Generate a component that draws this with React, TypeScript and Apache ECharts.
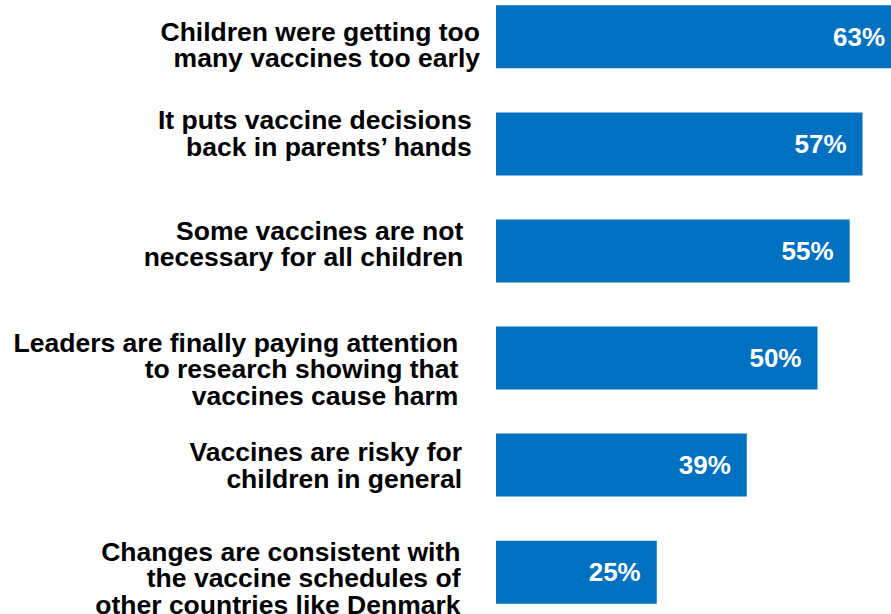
import React, { useEffect, useRef } from "react";
import * as echarts from "echarts";

const categories: string[] = [
  "Children were getting too\nmany vaccines too early",
  "It puts vaccine decisions\nback in parents’ hands",
  "Some vaccines are not\nnecessary for all children",
  "Leaders are finally paying attention\nto research showing that\nvaccines cause harm",
  "Vaccines are risky for\nchildren in general",
  "Changes are consistent with\nthe vaccine schedules of\nother countries like Denmark",
];

const values: number[] = [63, 57, 55, 50, 39, 25];

// per-label fine offsets: [shift down px, extra right gap px]
const labelShiftDown: number[] = [7.9, -10.5, -6.7, 11.2, 0.3, 6.3];
const labelExtraRight: number[] = [0, 8.3, 16.7, 21.7, 18, 19.5];

const FONT = "'Liberation Sans', Arial, Helvetica, sans-serif";
const FS = 26.5;
const LH = 26.3;

export default function App() {
  const ref = useRef<HTMLDivElement>(null);

  useEffect(() => {
    if (!ref.current) return;
    const chart = echarts.init(ref.current, undefined, { renderer: "svg" });

    const rich: Record<string, any> = {
      t: {
        fontFamily: FONT,
        fontSize: FS,
        fontWeight: "bold",
        lineHeight: LH,
        color: "#000000",
        align: "right",
      },
    };
    labelShiftDown.forEach((d, i) => {
      const h = Math.max(0.01, Math.abs(2 * d));
      rich["sp" + i] = { fontSize: 1, height: h, lineHeight: h, width: 0 };
    });

    const yData = categories.map((c, i) => ({
      value: c,
      textStyle: { padding: [0, labelExtraRight[i], 0, 0] },
    }));

    chart.setOption({
      animation: false,
      backgroundColor: "#ffffff",
      grid: {
        left: 496,
        right: -55.1,
        top: -16.7,
        bottom: -11.7,
        containLabel: false,
        outerBoundsMode: "none",
      },
      xAxis: {
        type: "value",
        min: 0,
        max: 70,
        show: false,
        splitLine: { show: false },
      },
      yAxis: {
        type: "category",
        inverse: true,
        data: yData,
        axisLine: { show: false },
        axisTick: { show: false },
        splitLine: { show: false },
        axisLabel: {
          interval: 0,
          margin: 16,
          fontFamily: FONT,
          fontSize: FS,
          fontWeight: "bold",
          lineHeight: LH,
          color: "#000000",
          align: "right",
          rich,
          formatter: (value: string, index: number) => {
            const d = labelShiftDown[index];
            const body = value
              .split("\n")
              .map((l) => "{t|" + l + "}")
              .join("\n");
            const sp = "{sp" + index + "|}";
            return d >= 0 ? sp + "\n" + body : body + "\n" + sp;
          },
        },
      },
      series: [
        {
          type: "bar",
          data: values,
          barWidth: 63,
          itemStyle: { color: "#0070C0" },
          clip: false,
          label: {
            show: true,
            position: "insideRight",
            distance: 16,
            formatter: "{c}%",
            color: "#ffffff",
            fontFamily: FONT,
            fontSize: 26,
            fontWeight: "bold",
          },
        },
      ],
    });

    return () => chart.dispose();
  }, []);

  return (
    <div
      ref={ref}
      style={{ position: "fixed", left: 0, top: 0, width: 891, height: 614, background: "#fff" }}
    />
  );
}
